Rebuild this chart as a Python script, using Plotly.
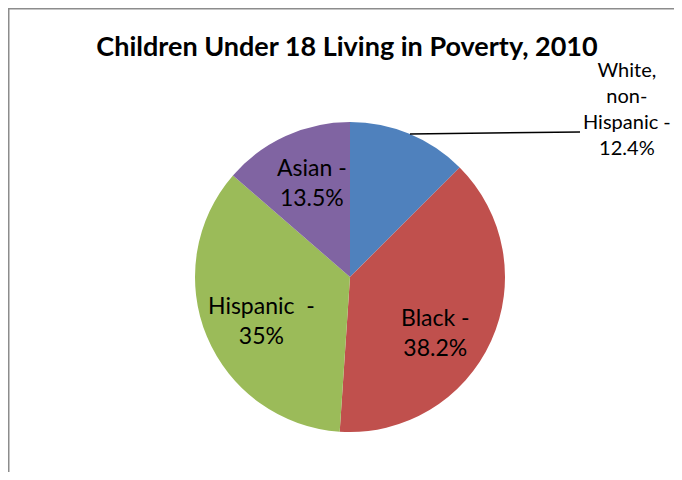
import plotly.graph_objects as go

title = "Children Under 18 Living in Poverty, 2010"
categories = ["White, non-Hispanic", "Black", "Hispanic", "Asian"]
values = [12.4, 38.2, 35, 13.5]
label_texts = ["White,<br>non-<br>Hispanic -<br>12.4%", "Black -<br>38.2%", "Hispanic  -<br>35%", "Asian -<br>13.5%"]
colors = ["#4F81BD", "#C0504D", "#9BBB59", "#8064A2"]

# page body adds an 8px offset; work in screen coords and shift
OFF = 8
W, H = 682 - 2 * OFF, 480 - 2 * OFF
cx, cy, r = 350 - OFF, 277 - OFF, 155


def px(x):
    return (x - OFF) / W


def py(y):
    return 1 - (y - OFF) / H


fig = go.Figure(go.Pie(
    labels=categories, values=values, sort=False, direction="clockwise",
    rotation=0, marker=dict(colors=colors, line=dict(width=0)),
    textinfo="none", hoverinfo="label+value", showlegend=False,
    domain=dict(x=[(cx - r) / W, (cx + r) / W], y=[(H - cy - r) / H, (H - cy + r) / H]),
))

label_pos = [(627, 108), (435, 332), (261, 320), (312, 182)]
label_sizes = [20, 23, 23, 23]
for t, (x, y), s in zip(label_texts, label_pos, label_sizes):
    fig.add_annotation(x=px(x), y=py(y), xref="paper", yref="paper", text=t,
                       showarrow=False,
                       font=dict(family="Lato, 'Open Sans', sans-serif", size=s, color="#000000"),
                       align="center", xanchor="center", yanchor="middle")

# leader line for the outside label
fig.add_shape(type="line", xref="paper", yref="paper",
              x0=px(410), y0=py(134), x1=px(580), y1=py(132),
              line=dict(color="#000000", width=1.5))
# chart frame (left and top edges)
fig.add_shape(type="line", xref="paper", yref="paper",
              x0=0, y0=1, x1=1, y1=1,
              line=dict(color="#8c8c8c", width=3))
fig.add_shape(type="line", xref="paper", yref="paper",
              x0=0, y0=1, x1=0, y1=0,
              line=dict(color="#8c8c8c", width=3))

fig.update_layout(
    width=W, height=H, margin=dict(l=0, r=0, t=0, b=0),
    paper_bgcolor="white", plot_bgcolor="white",
    title=dict(text="<b>" + title + "</b>", x=px(347), xanchor="center",
               y=py(47), yanchor="middle",
               font=dict(family="Lato, 'Open Sans', sans-serif", size=27, color="#000000")),
)

fig.write_html("out.html")
